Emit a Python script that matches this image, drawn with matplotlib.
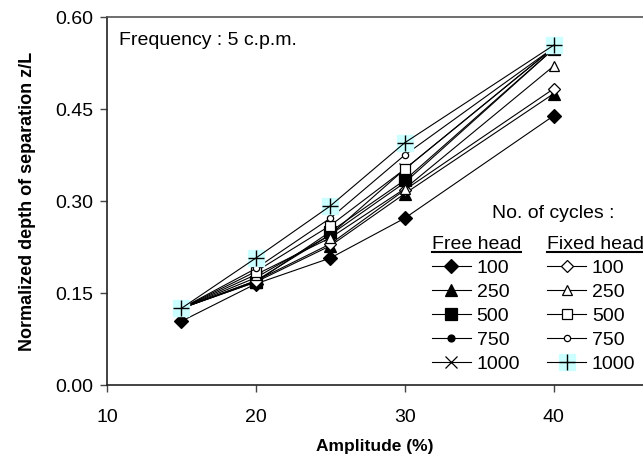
import numpy as np
import matplotlib.pyplot as plt
from matplotlib.lines import Line2D
from matplotlib.legend_handler import HandlerTuple

plt.rcParams['font.family'] = ['Liberation Sans', 'DejaVu Sans']

# Dati
amplitude = [15, 20, 25, 30, 40]
cycles = ['100', '250', '500', '750', '1000']

free_100 = [0.104, 0.165, 0.207, 0.272, 0.439]
free_250 = [0.125, 0.168, 0.227, 0.312, 0.475]
free_500 = [0.125, 0.168, 0.250, 0.334, 0.548]
free_750 = [0.125, 0.170, 0.245, 0.330, 0.548]
free_1000 = [0.125, 0.175, 0.245, 0.352, 0.550]

fixed_100 = [0.125, 0.170, 0.230, 0.318, 0.483]
fixed_250 = [0.125, 0.180, 0.240, 0.320, 0.520]
fixed_500 = [0.125, 0.185, 0.260, 0.352, 0.550]
fixed_750 = [0.125, 0.190, 0.272, 0.375, 0.550]
fixed_1000 = [0.125, 0.207, 0.292, 0.395, 0.554]

free_series = [free_100, free_250, free_500, free_750, free_1000]
fixed_series = [fixed_100, fixed_250, fixed_500, fixed_750, fixed_1000]

free_markers = [('D', 7, 'k'), ('^', 8, 'k'), ('s', 8, 'k'), ('o', 5, 'k'), ('x', 8, 'k')]
fixed_markers = [('D', 6, 'white'), ('^', 7, 'white'), ('s', 7, 'white'), ('o', 4.5, 'white'), ('+', 11, 'k')]
cyan = '#ccffff'

fig = plt.figure(figsize=(6.43, 4.63), dpi=100)
ax = fig.add_axes([107 / 643, 1 - 385 / 463, 1 - 107 / 643, (385 - 17) / 463])

free_handles = []
for vals, (m, ms, fc) in zip(free_series, free_markers):
    h, = ax.plot(amplitude, vals, color='k', lw=0.8, marker=m, ms=ms,
                 mfc=fc, mec='k', mew=0.9, zorder=3)
    free_handles.append(h)

fixed_handles = []
for vals, (m, ms, fc) in zip(fixed_series, fixed_markers):
    if m == '+':
        bg, = ax.plot(amplitude, vals, ls='none', marker='s', ms=11,
                      mfc=cyan, mec=cyan, zorder=4)
        h, = ax.plot(amplitude, vals, color='k', lw=0.8, marker='+', ms=ms,
                     mec='k', mew=1.0, zorder=5)
        fixed_handles.append((bg, h))
    else:
        h, = ax.plot(amplitude, vals, color='k', lw=0.8, marker=m, ms=ms,
                     mfc=fc, mec='k', mew=0.9, zorder=3)
        fixed_handles.append(h)

ax.set_xlim(10, 46)
ax.set_ylim(0, 0.6)
ax.set_xticks([10, 20, 30, 40])
ax.set_yticks([0, 0.15, 0.30, 0.45, 0.60])
ax.set_yticklabels(['0.00', '0.15', '0.30', '0.45', '0.60'])
ax.tick_params(labelsize=14, direction='out', length=5, width=1, colors='#444444',
               labelcolor='k')
ax.tick_params(axis='x', pad=12)
ax.tick_params(axis='y', pad=5)
ax.spines['right'].set_visible(False)
ax.spines['left'].set_color('#222222')
ax.spines['bottom'].set_color('#222222')
ax.spines['top'].set_color('#555555')
for s in ['left', 'bottom', 'top']:
    ax.spines[s].set_linewidth(1.2)

ax.set_xlabel('Amplitude (%)', fontsize=12.5, fontweight='bold', labelpad=10)
ax.set_ylabel('Normalized depth of separation z/L', fontsize=13, fontweight='bold', labelpad=14)

ax.text(0.022, 0.935, 'Frequency : 5 c.p.m.', transform=ax.transAxes,
        fontsize=14, va='center', ha='left')
ax.text(0.718, 0.465, 'No. of cycles :', transform=ax.transAxes,
        fontsize=14, va='center', ha='left')

leg_kw = dict(frameon=False, fontsize=14, title_fontsize=14, borderpad=0,
              handlelength=2.0, handletextpad=0.3, labelspacing=0.33,
              borderaxespad=0, alignment='left',
              handler_map={tuple: HandlerTuple(ndivide=1, pad=0)})
leg1 = ax.legend(free_handles, cycles, title='Free head', loc='upper left',
                 bbox_to_anchor=(0.606, 0.405), **leg_kw)
ax.add_artist(leg1)
leg2 = ax.legend(fixed_handles, cycles, title='Fixed head', loc='upper left',
                 bbox_to_anchor=(0.821, 0.405), **leg_kw)

# sottolineatura dei titoli della legenda
fig.canvas.draw()
inv = fig.transFigure.inverted()
for lg in (leg1, leg2):
    bb = lg.get_title().get_window_extent()
    (x0, y0), (x1, _) = inv.transform([(bb.x0, bb.y0 + 1), (bb.x1, bb.y0)])
    fig.add_artist(Line2D([x0, x1], [y0, y0], color='k', lw=1.5,
                          transform=fig.transFigure))

fig.savefig('out.png', dpi=100)
